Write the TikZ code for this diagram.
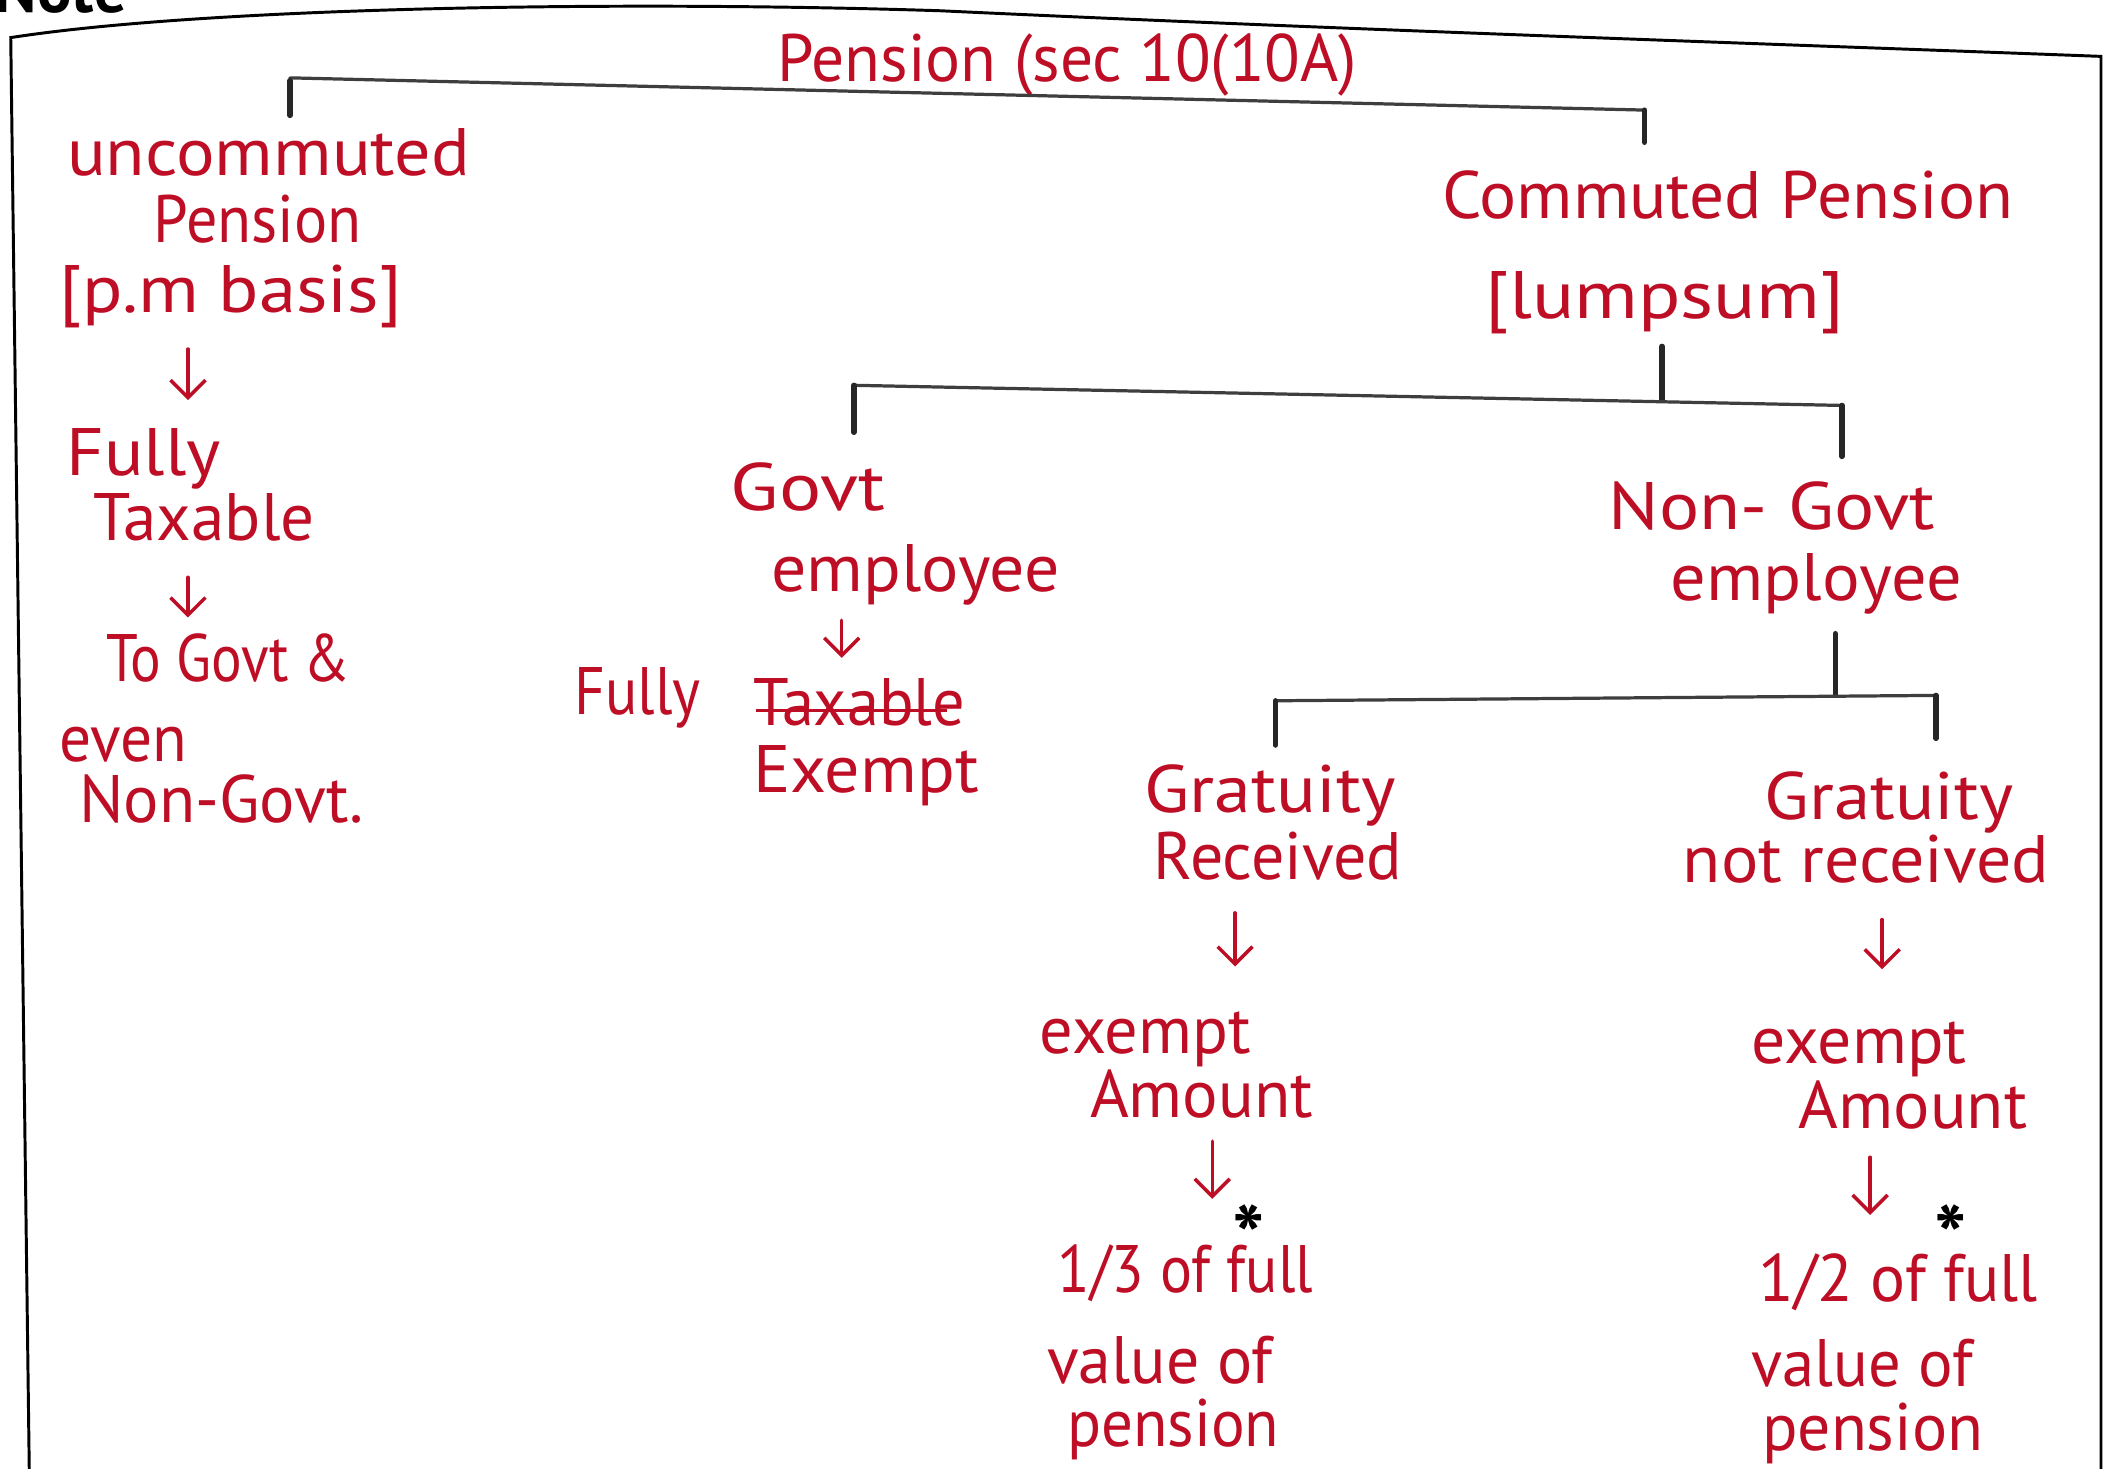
\documentclass[tikz,border=0pt]{standalone}
\usepackage{fontspec}
\setmainfont{PT Sans}
\usetikzlibrary{arrows.meta}
\definecolor{ink}{RGB}{190,14,38}
\definecolor{pencil}{RGB}{62,62,62}

\tikzset{
  hw/.style={text=ink, inner sep=0pt, text height=36pt, text depth=11pt,
             font=\fontsize{50}{56}\selectfont},
  tree/.style={draw=pencil, line width=2.4pt, line cap=round},
  tick/.style={draw=black!85, line width=4pt, line cap=round},
  arr/.style={draw=ink, line width=2.6pt, line cap=round,
              -{Straight Barb[length=13pt,width=26pt,line width=2.6pt]}},
  frame/.style={draw=black, line width=2.2pt},
  star/.style={text=black, inner sep=0pt, anchor=base,
               font=\fontsize{64}{64}\selectfont\bfseries},
}
% scale a word to a given width, keeping its height
\newcommand\fitw[2]{\resizebox{#1pt}{\height}{#2}}

\begin{document}
\begin{tikzpicture}[x=1pt,y=-1pt]
\useasboundingbox (0,0) rectangle (1568,1094);
\clip (0,0) rectangle (1568,1094);

% page frame
\draw[frame] (22,1110) -- (8,28) .. controls (150,6) and (450,0) .. (700,8)
  .. controls (1000,22) and (1300,32) .. (1565,42) -- (1565,1110);
\node[anchor=base west, inner sep=0pt, font=\fontsize{48}{48}\selectfont\bfseries] (note) at (-4,9) {Note};

% title
\node[hw] (title) at (795,48) {\fitw{432}{Pension (sec 10(10A)}};

% first split
\coordinate (jL) at (216,58);
\coordinate (jR) at (1225,82);
\coordinate (jLd) at (216,86);
\coordinate (jRd) at (1225,106);
\draw[tree] (jL) -- (jR);
\draw[tick] ([yshift=-2pt]jL) -- (jLd);
\draw[tick] (jR) -- (jRd);

% uncommuted branch
\node[hw] (unc1) at (200,118) {\fitw{300}{uncommuted}};
\node[hw] (unc2) at (192,168) {\fitw{155}{Pension}};
\node[hw] (unc3) at (172,220) {\fitw{255}{[p.m basis]}};
\coordinate (ua1) at (140,260);
\coordinate (ua2) at (140,298);
\draw[arr] (ua1) -- (ua2);
\node[hw] (ft1) at (107,342) {\fitw{115}{Fully}};
\node[hw] (ft2) at (152,390) {\fitw{165}{Taxable}};
\coordinate (ub1) at (140,430);
\coordinate (ub2) at (140,460);
\draw[arr] (ub1) -- (ub2);
\node[hw] (tg1) at (170,495) {\fitw{182}{To Govt \&}};
\node[hw] (tg2) at (92,555) {\fitw{95}{even}};
\node[hw] (tg3) at (165,600) {\fitw{212}{Non-Govt.}};

% commuted branch
\node[hw] (com1) at (1287,150) {\fitw{425}{Commuted Pension}};
\node[hw] (com2) at (1240,225) {\fitw{267}{[lumpsum]}};
\coordinate (cT) at (1238,258);
\coordinate (cM) at (1238,298);
\coordinate (cL) at (636,287);
\coordinate (cR) at (1372,302);
\coordinate (cLd) at (636,322);
\coordinate (cRd) at (1372,340);
\draw[tick] (cT) -- (cM);
\draw[tree] (cL) -- (cR);
\draw[tick] (cL) -- (cLd);
\draw[tick] (cR) -- (cRd);

% government employee
\node[hw] (gov1) at (602,368) {\fitw{115}{Govt}};
\node[hw] (gov2) at (682,428) {\fitw{215}{employee}};
\coordinate (ga1) at (627,462);
\coordinate (ga2) at (627,490);
\draw[arr] (ga1) -- (ga2);
\node[hw] (full) at (475,520) {\fitw{94}{Fully}};
\node[hw] (tax) at (640,528) {\fitw{158}{Taxable}};
\draw[ink, line width=2pt] ([xshift=2pt,yshift=-1pt]tax.west) -- ([xshift=-14pt,yshift=-1pt]tax.east);
\node[hw] (exm) at (645,578) {\fitw{168}{Exempt}};

% non-government employee
\node[hw] (ng1) at (1320,382) {\fitw{243}{Non- Govt}};
\node[hw] (ng2) at (1353,435) {\fitw{217}{employee}};
\coordinate (nT) at (1367,472);
\coordinate (nM) at (1367,518);
\coordinate (nL) at (950,522);
\coordinate (nR) at (1442,518);
\coordinate (nLd) at (950,555);
\coordinate (nRd) at (1442,550);
\draw[tick] (nT) -- (nM);
\draw[tree] (nL) -- (nR);
\draw[tick] (nL) -- (nLd);
\draw[tick] (nR) -- (nRd);

% gratuity received
\node[hw] (gr1) at (946,593) {\fitw{187}{Gratuity}};
\node[hw] (gr2) at (952,643) {\fitw{185}{Received}};
\coordinate (ra1) at (920,680);
\coordinate (ra2) at (920,720);
\draw[arr] (ra1) -- (ra2);
\node[hw] (ex1) at (853,772) {\fitw{157}{exempt}};
\node[hw] (ex2) at (895,820) {\fitw{166}{Amount}};
\coordinate (rb1) at (903,850);
\coordinate (rb2) at (903,893);
\draw[arr] (rb1) -- (rb2);
\node[star] (st1) at (930,944) {*};
\node[hw] (v1) at (883,950) {\fitw{190}{1/3 of full}};
\node[hw] (v2) at (864,1018) {\fitw{168}{value of}};
\node[hw] (v3) at (874,1065) {\fitw{158}{pension}};

% gratuity not received
\node[hw] (gn1) at (1407,598) {\fitw{185}{Gratuity}};
\node[hw] (gn2) at (1390,645) {\fitw{273}{not received}};
\coordinate (na1) at (1402,685);
\coordinate (na2) at (1402,722);
\draw[arr] (na1) -- (na2);
\node[hw] (en1) at (1385,780) {\fitw{160}{exempt}};
\node[hw] (en2) at (1425,828) {\fitw{170}{Amount}};
\coordinate (nb1) at (1393,862);
\coordinate (nb2) at (1393,905);
\draw[arr] (nb1) -- (nb2);
\node[star] (st2) at (1453,944) {*};
\node[hw] (h1) at (1414,957) {\fitw{208}{1/2 of full}};
\node[hw] (h2) at (1387,1020) {\fitw{165}{value of}};
\node[hw] (h3) at (1395,1068) {\fitw{165}{pension}};
\end{tikzpicture}
\end{document}
